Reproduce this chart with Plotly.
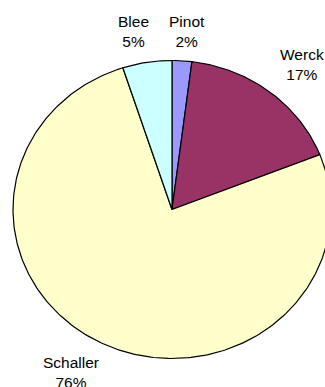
import numpy as np
import plotly.graph_objects as go

# Slice data, listed clockwise starting from 12 o'clock
labels = ["Pinot", "Werck", "Schaller", "Blee"]
values = [2, 17, 76, 5]
colors = ["#9999FF", "#993366", "#FFFFCC", "#CCFFFF"]

W, H = 325, 387
# pie centre and radii in pixels (the pie is slightly wider than tall)
cx, cy, rx, ry = 172, 209.5, 159, 149

fig = go.Figure()
total = float(sum(values))
start = 0.0
for lab, val, col in zip(labels, values, colors):
    frac = val / total
    t = np.linspace(start, start + frac, max(int(frac * 400), 4)) * 2 * np.pi
    xs = np.concatenate([[0], np.sin(t), [0]])
    ys = np.concatenate([[0], np.cos(t), [0]])
    fig.add_trace(go.Scatter(
        x=xs, y=ys, mode="lines", fill="toself", fillcolor=col,
        line=dict(color="black", width=1.2), name=lab, hoverinfo="name",
        showlegend=False))
    start += frac

# label positions in pixels (centre x, centre y)
label_pos = {"Pinot": (187, 32), "Werck": (302, 64.5),
             "Schaller": (71, 372), "Blee": (133, 32)}
for lab, val in zip(labels, values):
    px, py = label_pos[lab]
    pct = round(100 * val / total)
    fig.add_annotation(
        x=px / W, y=1 - py / H, xref="paper", yref="paper",
        text=f"{lab}<br>{pct}%", showarrow=False,
        xanchor="center", yanchor="middle", align="center",
        font=dict(family="Liberation Sans, Arial", size=15.5, color="black"))

fig.update_layout(
    width=W, height=H, margin=dict(l=0, r=0, t=0, b=0),
    paper_bgcolor="white", plot_bgcolor="white",
    xaxis=dict(range=[(0 - cx) / rx, (W - cx) / rx], visible=False, fixedrange=True),
    yaxis=dict(range=[(cy - H) / ry, cy / ry], visible=False, fixedrange=True),
)
fig.write_html("out.html")
